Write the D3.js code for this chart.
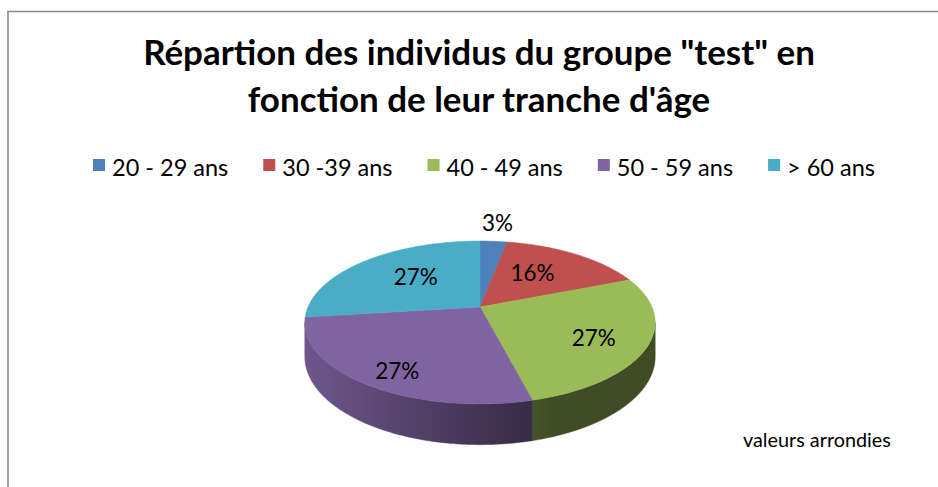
<!DOCTYPE html>
<html>
<head>
<meta charset="utf-8">
<script src="https://cdn.jsdelivr.net/npm/d3@7"></script>
<style>
  body { margin: 0; background: #fff; }
  svg { display: block; }
  text { font-family: Lato, "Open Sans", sans-serif; fill: #000; }
</style>
</head>
<body>
<svg id="chart" width="938" height="487"></svg>
<script>
const title = ['Répartion des individus du groupe "test" en', "fonction de leur tranche d'âge"]
const categories = ["20 - 29 ans", "30 -39 ans", "40 - 49 ans", "50 - 59 ans", "> 60 ans"]
const values = [3, 16, 27, 27, 27]
const colors = ["#4F81BD", "#C0504D", "#9BBB59", "#8064A2", "#4BACC6"]
const note = "valeurs arrondies"

const W = 938, H = 487
const svg = d3.select('#chart')

// fit the font size of a text so it spans the target width
function fit(sel, target) {
    const w = sel.node().getComputedTextLength()
    sel.attr('font-size', parseFloat(sel.attr('font-size')) * target / w)
}

svg.append('rect').attr('width', W).attr('height', H).attr('fill', '#fff')

// chart frame (only top and left edges are inside the picture)
svg.append('path')
    .attr('d', `M8,${H} V11.5 H${W}`)
    .attr('fill', 'none')
    .attr('stroke', '#8a8a8a')
    .attr('stroke-width', 1.6)

// title
const titleG = svg.append('g')
const t1 = titleG.append('text').attr('x', 479).attr('y', 65)
    .attr('text-anchor', 'middle').attr('font-weight', 'bold').attr('font-size', 30)
    .text(title[0])
fit(t1, 672)
titleG.append('text').attr('x', 479).attr('y', 112)
    .attr('text-anchor', 'middle').attr('font-weight', 'bold').attr('font-size', t1.attr('font-size'))
    .text(title[1])

// color scale
const color = d3.scaleOrdinal().domain(categories).range(colors)

// legend
const legend = svg.append('g').attr('class', 'legend')
const lt = legend.selectAll('text').data(categories).join('text')
    .attr('font-size', 20).attr('y', 176).text(d => d)
let widths = lt.nodes().map(n => n.getComputedTextLength())
const k = 547 / d3.sum(widths)
lt.attr('font-size', 20 * k)
widths = widths.map(w => w * k)
const gap = 35, sw = 19
const starts = []
let x0 = 93
widths.forEach(w => { starts.push(x0); x0 += sw + w + gap })
lt.attr('x', (d, i) => starts[i] + sw)
legend.selectAll('rect').data(categories).join('rect')
    .attr('x', (d, i) => starts[i]).attr('y', 159)
    .attr('width', 12).attr('height', 12)
    .attr('fill', d => color(d))

// 3d pie projection
const cx = 480, cy = 307, RX = 172, RY = 78.5, P = 0.19, DEPTH = 33
function proj(a, r, h) {
    const X = r * Math.sin(a), Z = -r * Math.cos(a)
    const f = 1 / (1 - P * Z)
    return [cx + X * RX * f, cy + Z * RY * f + h * f]
}
function arcPts(a0, a1, r, h) {
    const n = Math.max(2, Math.ceil((a1 - a0) / 0.01))
    return d3.range(n + 1).map(i => proj(a0 + (a1 - a0) * i / n, r, h))
}

const pie = d3.pie().sort(null).value(d => d.value)
const arcs = pie(categories.map((c, i) => ({ cat: c, value: values[i] })))
const total = d3.sum(values)
const line = d3.line()

// side gradients
const defs = svg.append('defs')
arcs.forEach((d, i) => {
    const g = defs.append('linearGradient').attr('id', 'side' + i)
        .attr('gradientUnits', 'userSpaceOnUse')
        .attr('x1', cx - RX * 1.02).attr('x2', cx + RX * 1.02).attr('y1', 0).attr('y2', 0)
    const c = color(d.data.cat)
    ;[[0, 0.4], [0.55, 2.0], [0.7, 2.5], [1, 2.5]].forEach(s => {
        g.append('stop').attr('offset', s[0]).attr('stop-color', d3.color(c).darker(s[1]))
    })
})

const pieG = svg.append('g')

// outer walls, only the part facing the viewer (between the silhouette points)
const sil = Math.acos(-P)
arcs.forEach((d, i) => {
    const a0 = Math.max(d.startAngle, sil)
    const a1 = Math.min(d.endAngle, 2 * Math.PI - sil)
    if (a1 <= a0) return
    const pts = arcPts(a0, a1, 1, 0).concat(arcPts(a0, a1, 1, DEPTH).reverse())
    pieG.append('path').attr('d', line(pts) + 'Z')
        .attr('fill', `url(#side${i})`)
        .attr('stroke', `url(#side${i})`).attr('stroke-width', 0.5)
})

// top faces
pieG.selectAll('.top').data(arcs).join('path').attr('class', 'top')
    .attr('d', d => line([proj(0, 0, 0)].concat(arcPts(d.startAngle, d.endAngle, 1, 0))) + 'Z')
    .attr('fill', d => color(d.data.cat))
    .attr('stroke', d => color(d.data.cat)).attr('stroke-width', 0.5)

// data labels
const labels = svg.append('g').selectAll('text').data(arcs).join('text')
    .attr('text-anchor', 'middle').attr('dominant-baseline', 'central')
    .attr('font-size', 22)
    .text(d => Math.round(d.data.value / total * 100) + '%')
fit(d3.select(labels.nodes()[2]), 44)
labels.attr('font-size', d3.select(labels.nodes()[2]).attr('font-size'))
labels.each(function (d) {
    const mid = (d.startAngle + d.endAngle) / 2
    const share = d.data.value / total
    const zm = -Math.cos(mid)
    const p = share < 0.05 ? proj(mid, 1.35, 0) : proj(mid, 0.63 + 0.15 * zm, 8 * zm)
    d3.select(this).attr('x', p[0]).attr('y', p[1])
})

// footnote
const nt = svg.append('text').attr('x', 743).attr('y', 447)
    .attr('font-size', 16).text(note)
fit(nt, 148)
</script>
</body>
</html>
